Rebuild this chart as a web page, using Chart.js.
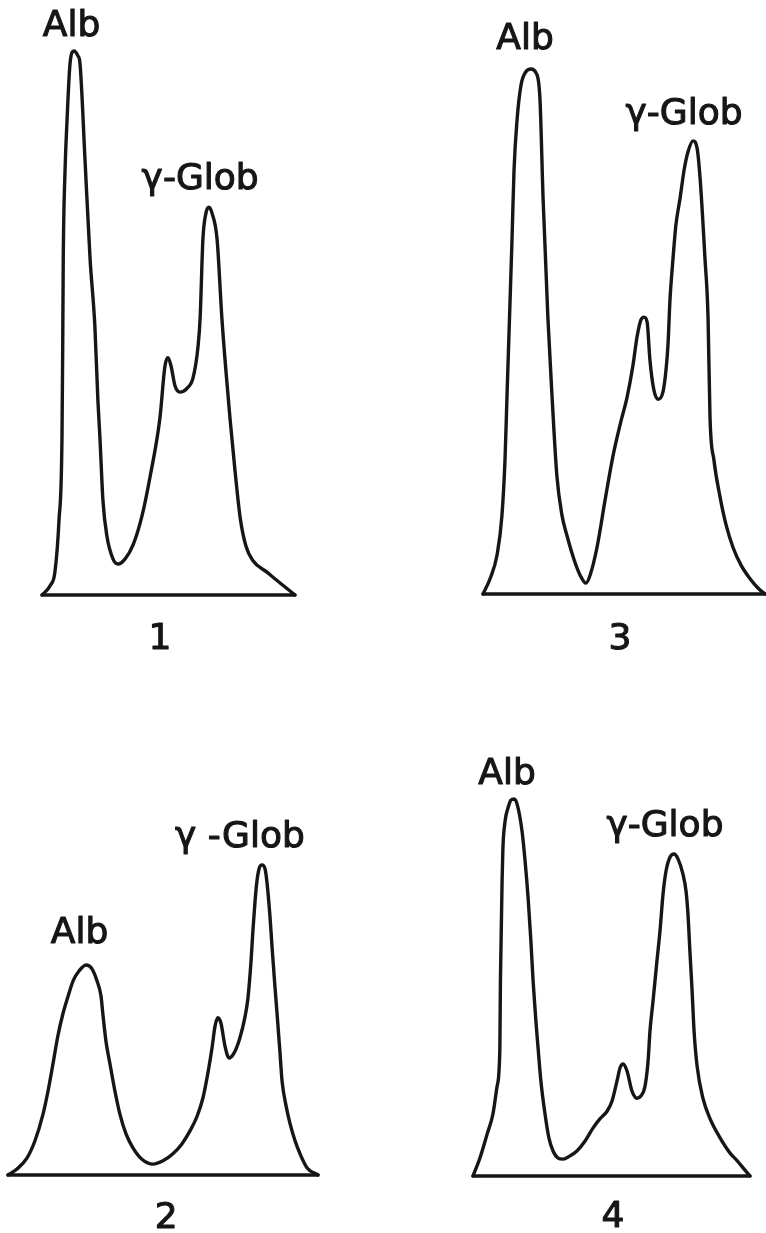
<!DOCTYPE html>
<html>
<head>
<meta charset="utf-8">
<script src="https://cdn.jsdelivr.net/npm/chart.js@4/dist/chart.umd.min.js"></script>
<style>
  html, body { margin: 0; padding: 0; background: #ffffff; }
  body { width: 766px; height: 1233px; position: relative; overflow: hidden; }
  .panel { position: absolute; }
</style>
</head>
<body>
<div class="panel" id="p1"><canvas id="c1"></canvas></div>
<div class="panel" id="p3"><canvas id="c3"></canvas></div>
<div class="panel" id="p2"><canvas id="c2"></canvas></div>
<div class="panel" id="p4"><canvas id="c4"></canvas></div>
<script>
// ---- Data: densitometer traces (position along strip in %, relative density) ----
const pos1 = [0,3.2,5.1,6.7,7.9,8.2,8.4,9.1,9.9,11.1,12.6,14.2,15.0,17.0,19.0,20.9,22.1,22.9,24.1,25.7,28.1,30.0,32.8,36.0,39.5,42.7,46.6,48.6,49.8,51.0,52.6,54.5,57.3,59.7,61.7,62.5,63.6,64.8,66.0,67.2,69.2,71.1,72.7,74.3,76.3,78.3,80.6,83.4,88.9,94.1,100];
const dens1 = [0,1.7,4.2,13.6,28.9,46.7,61.8,77.9,87.3,97.8,100,99.1,97.8,80.0,61.8,49.4,35.7,28.9,17.3,10.7,6.6,5.7,6.6,9.2,14.5,21.7,32.5,42.1,43.6,42.1,38.4,37.3,38.0,39.9,45.8,50.9,65.4,70.2,71.3,70.2,65.4,50.9,41.2,32.5,22.8,14.3,9.0,6.3,4.2,2.2,0];

const pos2 = [0,2.9,6.1,8.7,11.3,12.9,14.5,16.1,17.7,19.4,21.0,22.9,25.2,27.1,28.7,30.0,30.6,31.6,32.9,34.5,36.1,38.1,40.3,43.2,46.8,50.0,53.2,56.1,58.7,61.0,62.9,64.5,65.8,66.8,67.7,68.7,70.0,71.3,72.9,74.8,76.5,77.4,78.4,79.0,79.7,80.3,81.0,81.9,82.9,83.5,84.5,85.2,86.1,86.8,87.7,88.4,89.7,91.0,92.6,94.2,96.5,100];
const dens2 = [0,1.1,3.1,6.3,11.2,15.4,20.4,25.6,29.6,32.9,35.7,37.5,38.6,37.9,35.7,32.9,29.6,24.6,20.4,15.4,11.2,7.5,5.0,2.9,2.0,2.6,3.9,5.7,8.1,10.8,14.2,18.8,23.3,27.4,28.9,27.9,23.7,21.5,22.4,25.2,29.2,32.5,39.3,44.9,50.4,54.0,56.3,57.0,56.3,54.0,47.6,41.7,34.7,29.6,22.8,17.3,12.7,9.4,6.3,3.9,1.3,0];

const pos3 = [0,2.5,5.0,6.7,7.8,8.5,9.6,10.3,11.0,12.1,13.5,15.2,17.0,18.8,20.2,21.3,23.0,24.5,26.2,28.0,29.8,32.3,34.4,36.5,38.0,40.4,43.3,46.1,48.6,51.1,53.2,54.6,56.0,57.1,58.2,59.2,60.6,62.1,63.8,64.9,65.6,66.3,67.4,68.4,69.9,71.3,72.7,74.5,75.9,77.0,78.7,79.8,80.5,81.9,84.0,86.2,88.7,91.5,94.7,97.5,100];
const dens3 = [0,2.8,7.2,14.3,24.6,36.2,54.0,65.4,77.9,87.3,93.6,96.0,96.5,95.8,91.0,72.8,50.9,36.2,21.7,14.5,10.7,6.3,3.5,2.0,3.5,8.5,17.3,25.4,31.1,36.2,42.1,47.2,50.4,50.9,50.0,43.0,37.5,35.8,37.1,41.2,45.8,54.0,61.8,67.8,72.8,77.9,81.3,83.3,82.0,76.3,61.8,50.9,32.5,24.6,18.0,12.7,8.5,5.3,2.8,1.1,0];

const pos4 = [0,2.5,5.1,7.2,8.7,9.7,9.9,10.1,10.5,10.8,11.6,12.6,13.7,14.8,15.9,17.7,18.8,19.9,20.9,21.7,22.7,23.5,24.5,26.0,27.4,28.9,30.7,32.5,35.0,37.5,40.4,43.3,45.8,48.4,50.2,52.0,53.1,54.2,55.6,57.4,59.2,60.6,62.1,63.2,63.9,65.0,66.4,67.5,68.6,69.7,71.1,72.6,74.0,75.8,76.9,77.6,78.3,79.1,79.8,80.9,83.0,85.6,89.2,92.8,95.4,97.8,100];
const dens4 = [0,3.3,7.7,11.4,16.5,23.5,35.8,41.9,54.2,60.3,65.3,67.6,69.1,69.3,68.4,63.4,57.9,51.1,43.2,35.8,28.5,23.5,17.5,11.4,7.0,4.6,3.3,3.1,3.7,4.6,6.4,8.8,10.5,11.9,13.8,17.5,19.9,20.6,19.3,15.6,14.3,14.7,16.5,21.1,26.7,32.2,39.5,45.0,51.8,56.1,58.6,59.2,58.3,55.5,52.4,48.2,41.4,34.0,26.7,20.2,14.3,10.5,7.0,4.2,2.8,1.3,0];

// ---- Text labels ----
const albLabel = 'Alb';
const globLabels = ['γ-Glob', 'γ -Glob', 'γ-Glob', 'γ-Glob'];
const panelNumbers = ['1', '2', '3', '4'];

// ---- Layout / style (not data) ----
const PX_PER_UNIT = 5.44;
const INK = '#161616';
const FONT_SIZE = 36;
const FONT = FONT_SIZE + 'px "DejaVu Sans", sans-serif';

const panels = [
  { id: 'c1', wrap: 'p1', box: [0, 0, 340, 680],     x0: 42,  x1: 295, base: 595,  yMax: 102, xs: pos1, ys: dens1,
    labels: [[albLabel, 11.7, 105.2], [globLabels[0], 62.5, 77.0], [panelNumbers[0], 46.6, -7.5]] },
  { id: 'c3', wrap: 'p3', box: [430, 0, 336, 680],   x0: 483, x1: 765, base: 594,  yMax: 102, xs: pos3, ys: dens3,
    labels: [[albLabel, 14.9, 102.6], [globLabels[2], 71.3, 88.8], [panelNumbers[2], 48.6, -7.7]] },
  { id: 'c2', wrap: 'p2', box: [0, 700, 340, 533],   x0: 8,   x1: 318, base: 1175, yMax: 60,  xs: pos2, ys: dens2,
    labels: [[albLabel, 23.1, 45.0], [globLabels[1], 74.8, 62.7], [panelNumbers[1], 51.0, -7.4]] },
  { id: 'c4', wrap: 'p4', box: [430, 700, 336, 533], x0: 473, x1: 750, base: 1176, yMax: 72,  xs: pos4, ys: dens4,
    labels: [[albLabel, 12.3, 74.4], [globLabels[3], 69.3, 64.9], [panelNumbers[3], 50.5, -7.0]] }
];

const labelPlugin = {
  id: 'peakLabels',
  afterDraw(chart) {
    const cfg = chart.options.plugins.peakLabels;
    if (!cfg) return;
    const ctx = chart.ctx;
    const xs = chart.scales.x, ys = chart.scales.y;
    ctx.save();
    ctx.fillStyle = INK;
    ctx.strokeStyle = INK;
    ctx.lineWidth = 1.1;
    ctx.lineJoin = 'round';
    ctx.font = FONT;
    ctx.textAlign = 'center';
    ctx.textBaseline = 'alphabetic';
    cfg.items.forEach(([t, xv, yv]) => {
      const px = xs.getPixelForValue(xv);
      const py = ys.getPixelForValue(yv) + FONT_SIZE * 0.36;
      ctx.fillText(t, px, py);
      ctx.strokeText(t, px, py);
    });
    ctx.restore();
  }
};

panels.forEach(p => {
  const [L, T, W, H] = p.box;
  const wrap = document.getElementById(p.wrap);
  wrap.style.left = L + 'px';
  wrap.style.top = T + 'px';
  wrap.style.width = W + 'px';
  wrap.style.height = H + 'px';
  const cv = document.getElementById(p.id);
  cv.width = W; cv.height = H;
  cv.style.width = W + 'px'; cv.style.height = H + 'px';

  const padTop = (p.base - p.yMax * PX_PER_UNIT) - T;
  const padBottom = (T + H) - p.base;
  const padLeft = p.x0 - L;
  const padRight = (L + W) - p.x1;

  const trace = p.xs.map((x, i) => ({ x: x, y: p.ys[i] }));
  const baseline = [{ x: 0, y: 0 }, { x: 100, y: 0 }];

  new Chart(cv, {
    type: 'line',
    data: {
      datasets: [
        { data: trace, borderColor: INK, borderWidth: 3.4, pointRadius: 0, fill: false,
          cubicInterpolationMode: 'monotone', clip: false, borderCapStyle: 'round', borderJoinStyle: 'round' },
        { data: baseline, borderColor: INK, borderWidth: 3.4, pointRadius: 0, fill: false,
          tension: 0, clip: false, borderCapStyle: 'round' }
      ]
    },
    options: {
      responsive: false,
      animation: false,
      devicePixelRatio: 1,
      layout: { padding: { left: padLeft, right: padRight, top: padTop, bottom: padBottom } },
      scales: {
        x: { type: 'linear', min: 0, max: 100, display: false },
        y: { type: 'linear', min: 0, max: p.yMax, display: false }
      },
      plugins: {
        legend: { display: false },
        tooltip: { enabled: false },
        peakLabels: { items: p.labels }
      },
      events: []
    },
    plugins: [labelPlugin]
  });
});
</script>
</body>
</html>
